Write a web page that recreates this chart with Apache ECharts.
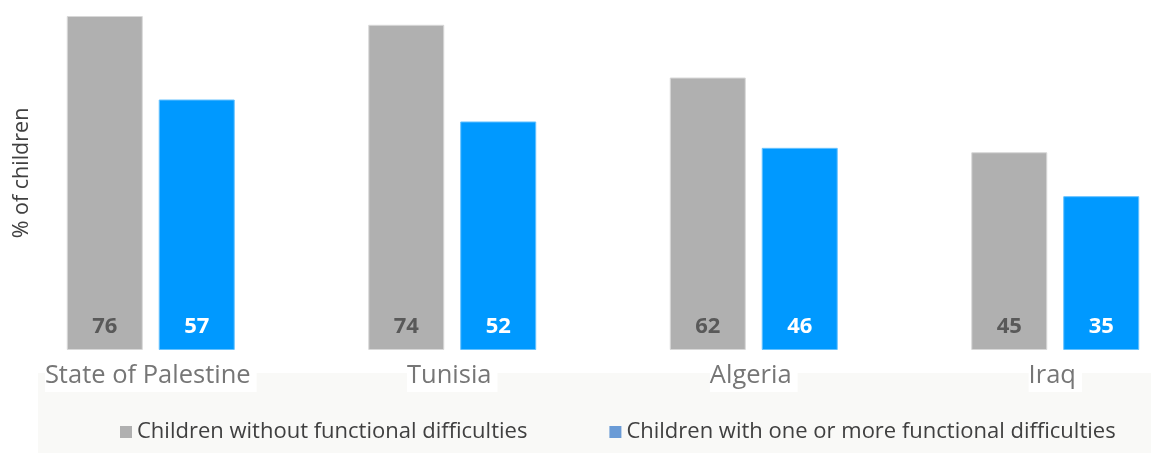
<!DOCTYPE html>
<html>
<head>
<meta charset="utf-8">
<script src="https://cdn.jsdelivr.net/npm/echarts@6/dist/echarts.min.js"></script>
<style>
html,body{margin:0;padding:0;background:#fff;}
#chart{width:1151px;height:453px;}
</style>
</head>
<body>
<div id="chart"></div>
<script>
const categories = ['State of Palestine', 'Tunisia', 'Algeria', 'Iraq'];
const seriesNames = ['Children without functional difficulties', 'Children with one or more functional difficulties'];
const withoutDifficulties = [76, 74, 62, 45];
const withDifficulties = [57, 52, 46, 35];
const yAxisName = '% of children';

const chart = echarts.init(document.getElementById('chart'));
const fontFam = '"Open Sans", "Noto Sans", sans-serif';
chart.setOption({
  animation: false,
  graphic: [
    { type: 'rect', z: -10, shape: { x: 38, y: 373, width: 1113, height: 80 }, style: { fill: '#f9f9f7' } },
    { type: 'text', x: 22, y: 173, rotation: Math.PI / 2, style: { text: yAxisName, font: '21.5px ' + fontFam, fill: '#404040', textAlign: 'center', textVerticalAlign: 'middle' } }
  ],
  grid: { left: 0, top: 16, width: 1206, height: 334, containLabel: false, outerBoundsMode: 'none' },
  legend: {
    bottom: 5,
    left: 115,
    icon: 'rect',
    itemWidth: 12,
    itemHeight: 12,
    itemGap: 82,
    textStyle: { fontSize: 22, color: '#404040', fontFamily: fontFam },
    data: [
      { name: seriesNames[0], itemStyle: { color: '#b0b0b0', borderWidth: 0 } },
      { name: seriesNames[1], itemStyle: { color: '#6a9bd6', borderWidth: 0 } }
    ]
  },
  xAxis: {
    type: 'category',
    data: categories,
    axisLine: { show: false },
    axisTick: { show: false },
    axisLabel: {
      fontSize: 25.5, color: '#767676', fontFamily: fontFam, margin: 13,
      backgroundColor: '#ffffff', padding: [0, 6, 3, 0]
    }
  },
  yAxis: { type: 'value', min: 0, max: 76, show: false, splitLine: { show: false } },
  series: [
    {
      name: seriesNames[0], type: 'bar', data: withoutDifficulties,
      barWidth: 76, barGap: '21%',
      itemStyle: { color: '#b0b0b0', borderColor: '#d8d8d8', borderWidth: 1 },
      label: { show: true, position: 'insideBottom', distance: 12, fontSize: 22, fontWeight: 'bold', color: '#595959', fontFamily: fontFam }
    },
    {
      name: seriesNames[1], type: 'bar', data: withDifficulties,
      barWidth: 76,
      itemStyle: { color: '#0099ff', borderColor: '#66c2ff', borderWidth: 1 },
      label: { show: true, position: 'insideBottom', distance: 12, fontSize: 22, fontWeight: 'bold', color: '#ffffff', fontFamily: fontFam }
    }
  ]
});
</script>
</body>
</html>
